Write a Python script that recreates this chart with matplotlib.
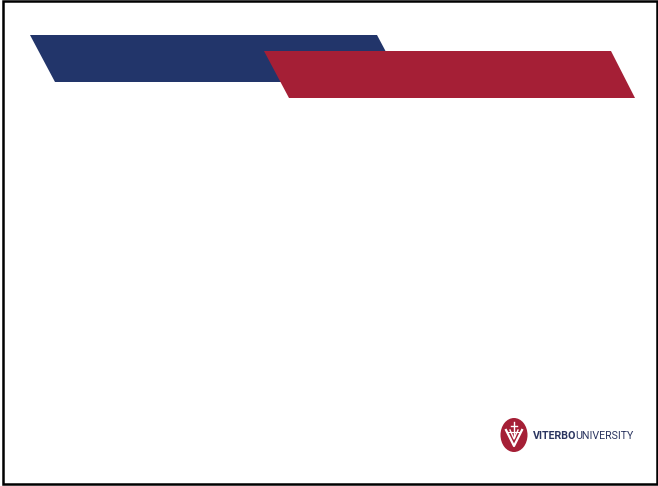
import matplotlib
matplotlib.use('Agg')
import matplotlib.pyplot as plt
from matplotlib.patches import Polygon, Ellipse, Rectangle

# slide banner shapes (pixel coords, origin top-left)
blue_band = [(30, 35), (377, 35), (402, 82), (55, 82)]
red_band = [(264, 51), (611, 51), (635, 98), (289, 98)]
border = (3, 1.5, 654, 482.5)  # x, y, width, height

logo_center = (514, 435)
logo_size = (27, 34)
brand_bold = 'VITERBO'
brand_light = 'UNIVERSITY'

navy = '#22356A'
crimson = '#A51F36'
text_navy = '#2B3560'


def main():
    fig = plt.figure(figsize=(6.58, 4.86), dpi=100)
    ax = fig.add_axes([0, 0, 1, 1])
    ax.set_xlim(0, 658)
    ax.set_ylim(486, 0)
    ax.axis('off')

    ax.add_patch(Rectangle(border[:2], border[2], border[3], fill=False,
                           edgecolor='black', linewidth=1.8))
    ax.add_patch(Polygon(blue_band, closed=True, facecolor=navy, edgecolor='none'))
    ax.add_patch(Polygon(red_band, closed=True, facecolor=crimson, edgecolor='none'))

    # logo emblem
    cx, cy = logo_center
    ax.add_patch(Ellipse(logo_center, logo_size[0], logo_size[1],
                         facecolor=crimson, edgecolor='none'))
    ax.plot([cx - 8, cx, cx + 8], [cy - 5, cy + 11, cy - 5], color='white', lw=1.6)
    ax.plot([cx - 4, cx, cx + 4], [cy - 5, cy + 4, cy - 5], color='white', lw=1.0)
    ax.plot([cx, cx], [cy - 13, cy + 2], color='white', lw=1.0)
    ax.plot([cx - 3, cx + 3], [cy - 9, cy - 9], color='white', lw=1.0)
    ax.plot([cx - 6, cx + 6], [cy - 3, cy - 3], color='white', lw=0.8)

    t1 = ax.text(533, 435.5, brand_bold, color=text_navy, fontsize=7.7,
                 fontweight='bold', family='Roboto', va='center', ha='left')
    fig.canvas.draw()
    bb = t1.get_window_extent()
    x_end = ax.transData.inverted().transform((bb.x1, bb.y0))[0]
    ax.text(x_end - 1.5, 435.5, brand_light, color=text_navy, fontsize=7.7,
            family='Roboto', va='center', ha='left')

    plt.savefig('out.png', dpi=100)


if __name__ == '__main__':
    main()
